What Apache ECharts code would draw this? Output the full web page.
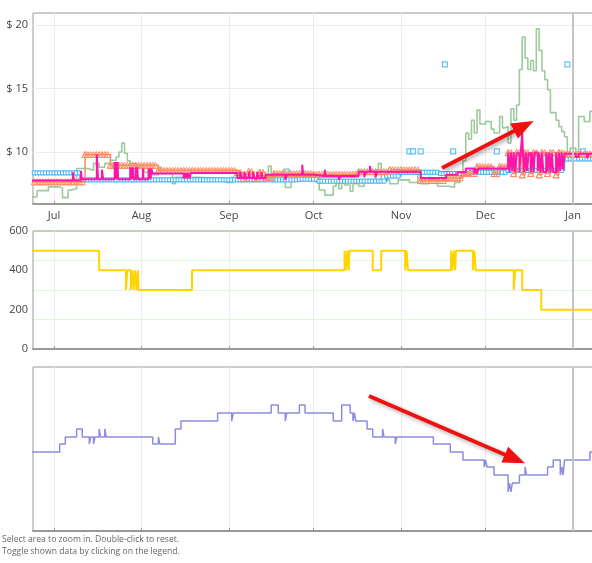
<!DOCTYPE html>
<html>
<head>
<meta charset="utf-8">
<title>Price history</title>
<script src="https://cdn.jsdelivr.net/npm/echarts@6/dist/echarts.min.js"></script>
<style>
  html, body { margin: 0; padding: 0; background: #fff; overflow: hidden; }
  /* the plot runs past the right edge of the window, as in the original */
  #chart { width: 612px; height: 563px; }
</style>
</head>
<body>
<div id="chart"></div>
<script>
// ---- data (dates are change points of step lines) ----
const monthStarts = ['2016-07-01', '2016-08-01', '2016-09-01', '2016-10-01', '2016-11-01', '2016-12-01', '2017-01-01']
const monthNames = ['Jan', 'Feb', 'Mar', 'Apr', 'May', 'Jun', 'Jul', 'Aug', 'Sep', 'Oct', 'Nov', 'Dec']
const priceTicks = [10, 15, 20]
const countTicks = [0, 200, 400, 600]

// green: 3rd party new
const thirdPartyNew = [
  ['2016-06-23', 6.45], ['2016-06-25', 6.95], ['2016-06-29', 7.25], ['2016-07-03', 7.15], ['2016-07-04', 6.4],
  ['2016-07-06', 7.0], ['2016-07-07', 7.1], ['2016-07-09', 8.7], ['2016-07-13', 8.55], ['2016-07-15', 9.1],
  ['2016-07-17', 8.8], ['2016-07-19', 9.1], ['2016-07-21', 9.35], ['2016-07-23', 9.6], ['2016-07-24', 10.0],
  ['2016-07-25', 10.7], ['2016-07-26', 9.9], ['2016-07-27', 9.3], ['2016-07-28', 9.1], ['2016-07-30', 8.8],
  ['2016-08-02', 8.4], ['2016-08-04', 8.2], ['2016-08-07', 8.8], ['2016-08-08', 8.3], ['2016-08-12', 7.5],
  ['2016-08-13', 8.0], ['2016-08-21', 7.9], ['2016-08-31', 7.6], ['2016-09-02', 8.0], ['2016-09-15', 8.9],
  ['2016-09-16', 8.3], ['2016-09-20', 8.5], ['2016-09-21', 7.2], ['2016-09-23', 7.7], ['2016-09-25', 8.0],
  ['2016-10-02', 7.6], ['2016-10-03', 7.0], ['2016-10-05', 6.6], ['2016-10-08', 7.3], ['2016-10-09', 7.6],
  ['2016-10-10', 7.1], ['2016-10-11', 7.6], ['2016-10-12', 7.4], ['2016-10-14', 6.9], ['2016-10-15', 7.5],
  ['2016-10-17', 7.3], ['2016-10-19', 7.6], ['2016-10-21', 7.8], ['2016-10-23', 8.6], ['2016-10-24', 9.1],
  ['2016-10-25', 7.8], ['2016-10-28', 7.5], ['2016-10-31', 7.8], ['2016-11-04', 7.6], ['2016-11-07', 8.4],
  ['2016-11-08', 7.5], ['2016-11-11', 7.8], ['2016-11-14', 7.3], ['2016-11-18', 7.2], ['2016-11-20', 7.6],
  ['2016-11-22', 8.1], ['2016-11-23', 9.3], ['2016-11-24', 11.5], ['2016-11-25', 11.0], ['2016-11-26', 12.5],
  ['2016-11-27', 11.5], ['2016-11-28', 13.3], ['2016-11-29', 12.2], ['2016-12-01', 12.4], ['2016-12-03', 11.8],
  ['2016-12-04', 11.5], ['2016-12-06', 12.8], ['2016-12-07', 11.9], ['2016-12-08', 12.0], ['2016-12-09', 10.7],
  ['2016-12-10', 13.4], ['2016-12-11', 12.5], ['2016-12-12', 13.7], ['2016-12-13', 16.5], ['2016-12-14', 19.05],
  ['2016-12-15', 17.4], ['2016-12-16', 16.5], ['2016-12-17', 17.2], ['2016-12-18', 16.4], ['2016-12-19', 19.7],
  ['2016-12-20', 18.0], ['2016-12-21', 16.4], ['2016-12-22', 15.7], ['2016-12-23', 14.9], ['2016-12-24', 13.1],
  ['2016-12-26', 12.5], ['2016-12-27', 12.0], ['2016-12-28', 11.6], ['2016-12-29', 11.2], ['2016-12-30', 10.0],
  ['2016-12-31', 10.3], ['2017-01-02', 10.0], ['2017-01-03', 12.8], ['2017-01-05', 12.4], ['2017-01-07', 13.2],
  ['2017-01-09', 12.5]
]

// blue squares: used (daily readings)
const usedPrice = [
  ['2016-06-23', 8.35], ['2016-07-10 12', 7.8], ['2016-09-26', 7.85], ['2016-10-03', 7.7], ['2016-10-27', 8.1],
  ['2016-11-01', 8.4], ['2016-11-15', 8.3], ['2016-11-26', 8.4], ['2016-12-09', 8.55], ['2016-12-29', 9.45]
]
const usedOutliers = [
  ['2016-09-21 12', 8.45], ['2016-11-04', 10.05], ['2016-11-05 06', 10.05], ['2016-11-08', 10.05],
  ['2016-11-16 14', 16.9], ['2016-11-19 12', 10.05], ['2016-12-05', 10.05], ['2016-12-30', 16.9], ['2017-01-04 12', 10.05]
]

// orange triangles: new (daily readings)
const newPrice = [
  ['2016-06-23', 7.65], ['2016-07-12', 9.8], ['2016-07-21', 8.95], ['2016-08-07', 8.55], ['2016-09-04', 8.4],
  ['2016-09-06', 7.9], ['2016-09-08', 8.45], ['2016-09-10', 7.9], ['2016-09-12', 8.4], ['2016-09-14', 8.0],
  ['2016-09-17', 8.3], ['2016-10-01', 8.25], ['2016-10-17', 8.45], ['2016-10-28', 8.6], ['2016-11-08', 7.75],
  ['2016-11-17', 7.95], ['2016-11-23', 8.3], ['2016-11-28', 8.85], ['2016-12-04', 8.3], ['2016-12-06', 8.85],
  ['2016-12-09', 9.95], ['2016-12-11', 8.3], ['2016-12-12', 9.95], ['2016-12-14', 8.2], ['2016-12-15', 9.95],
  ['2016-12-17', 8.3], ['2016-12-18', 9.95], ['2016-12-20', 8.2], ['2016-12-21', 9.95], ['2016-12-23', 8.3],
  ['2016-12-24', 9.95], ['2016-12-26', 8.2], ['2016-12-27', 9.95], ['2016-12-29', 9.85]
]

// magenta: buy box
const buyBox = [
  ['2016-06-23', 7.75], ['2016-07-07 16', 8.4], ['2016-07-08 02', 7.75], ['2016-07-10 12', 8.5], ['2016-07-10 20', 7.85],
  ['2016-07-16 04', 9.8], ['2016-07-16 14', 7.85], ['2016-07-18', 8.6], ['2016-07-18 10', 7.85],
  ['2016-07-22 12', 9.2], ['2016-07-22 18', 7.85], ['2016-07-23', 9.2], ['2016-07-23 06', 7.85], ['2016-07-23 12', 9.2], ['2016-07-23 18', 7.85],
  ['2016-07-28', 8.8], ['2016-07-28 06', 7.85], ['2016-07-28 12', 8.8], ['2016-07-28 18', 7.85], ['2016-07-29', 8.8], ['2016-07-29 06', 7.85],
  ['2016-07-30', 8.8], ['2016-07-30 06', 7.85], ['2016-07-30 12', 8.8], ['2016-07-30 18', 7.85],
  ['2016-08-01 12', 8.7], ['2016-08-01 18', 7.85],
  ['2016-08-03 12', 8.7], ['2016-08-03 18', 7.85], ['2016-08-04', 8.7], ['2016-08-04 06', 7.85], ['2016-08-04 12', 8.7],
  ['2016-08-05', 8.3],
  ['2016-08-16', 7.9], ['2016-08-16 12', 8.35], ['2016-08-17', 7.9], ['2016-08-17 12', 8.35], ['2016-08-18', 7.9], ['2016-08-18 12', 8.35],
  ['2016-09-04', 7.95], ['2016-09-05', 8.45], ['2016-09-05 12', 7.95], ['2016-09-06 12', 8.45], ['2016-09-07', 7.95], ['2016-09-08', 8.45],
  ['2016-09-08 12', 7.95], ['2016-09-09 12', 8.4], ['2016-09-10', 7.9], ['2016-09-11', 8.45], ['2016-09-11 12', 7.95], ['2016-09-12 12', 8.4],
  ['2016-09-13', 7.95], ['2016-09-14', 8.2], ['2016-09-21', 7.8], ['2016-09-21 12', 8.2], ['2016-09-27', 9.0], ['2016-09-27 08', 8.2],
  ['2016-10-01', 8.1], ['2016-10-05', 8.6], ['2016-10-05 08', 8.1], ['2016-10-10', 7.8], ['2016-10-10 12', 8.1],
  ['2016-10-17', 8.45], ['2016-10-19', 8.0], ['2016-10-19 12', 8.45], ['2016-10-21', 8.9], ['2016-10-21 08', 8.45],
  ['2016-10-23', 8.0], ['2016-10-23 12', 8.45],
  ['2016-11-08', 7.95], ['2016-11-17', 8.2], ['2016-11-21', 8.4], ['2016-11-24', 8.7],
  ['2016-11-27', 8.3], ['2016-11-27 12', 8.7], ['2016-11-28', 8.3], ['2016-11-28 12', 8.7],
  ['2016-12-09', 9.95], ['2016-12-09 12', 8.4], ['2016-12-10', 9.95], ['2016-12-10 12', 8.5], ['2016-12-11', 9.95],
  ['2016-12-11 12', 8.4], ['2016-12-12', 9.9], ['2016-12-13', 8.4], ['2016-12-13 12', 9.95], ['2016-12-14', 11.5],
  ['2016-12-14 06', 9.95], ['2016-12-14 18', 8.4], ['2016-12-15 06', 9.95], ['2016-12-15 18', 8.5], ['2016-12-16 06', 9.9],
  ['2016-12-17', 8.4], ['2016-12-17 12', 9.95], ['2016-12-18', 8.4], ['2016-12-18 12', 9.95], ['2016-12-19 12', 8.5],
  ['2016-12-20', 9.9], ['2016-12-20 12', 8.4], ['2016-12-21', 9.95], ['2016-12-21 12', 8.4], ['2016-12-22 12', 9.95],
  ['2016-12-23', 8.5], ['2016-12-23 12', 9.95], ['2016-12-24', 8.4], ['2016-12-24 12', 9.9], ['2016-12-25', 8.4],
  ['2016-12-26', 9.95], ['2016-12-26 12', 8.4], ['2016-12-27', 9.95], ['2016-12-27 12', 8.5], ['2016-12-28', 9.95],
  ['2016-12-28 12', 8.6], ['2016-12-29', 9.85], ['2017-01-02', 9.6], ['2017-01-03', 9.85], ['2017-01-06', 9.5],
  ['2017-01-06 12', 9.85]
]

// yellow: offer count panel
const offerCount = [
  ['2016-06-23', 500], ['2016-07-17', 400], ['2016-07-26 12', 300], ['2016-07-27', 400],
  ['2016-07-28 06', 300], ['2016-07-28 18', 400], ['2016-07-29 06', 300], ['2016-07-29 18', 400],
  ['2016-07-30 06', 300], ['2016-07-30 18', 400], ['2016-07-31', 300], ['2016-08-18 22', 400],
  ['2016-10-12', 500], ['2016-10-12 12', 400], ['2016-10-13', 500], ['2016-10-13 12', 400], ['2016-10-13 18', 500],
  ['2016-10-22', 400], ['2016-10-25', 500], ['2016-11-02 12', 400], ['2016-11-03', 500], ['2016-11-03 12', 400],
  ['2016-11-18 18', 500], ['2016-11-19 06', 400], ['2016-11-19 18', 500], ['2016-11-20 06', 400], ['2016-11-20 12', 500],
  ['2016-11-26 12', 400], ['2016-11-27', 500], ['2016-11-27 12', 400], ['2016-12-11', 300], ['2016-12-11 12', 400],
  ['2016-12-14', 300], ['2016-12-20 18', 200]
]

// purple: rank panel (no scale shown)
const salesRank = [
  ['2016-06-23', 79], ['2016-07-03', 87], ['2016-07-05', 94], ['2016-07-09', 102], ['2016-07-11', 94],
  ['2016-07-13 12', 87], ['2016-07-14', 94], ['2016-07-15', 87], ['2016-07-15 12', 94], ['2016-07-17', 102],
  ['2016-07-17 12', 94], ['2016-07-19', 102], ['2016-07-19 12', 94], ['2016-08-05', 87], ['2016-08-07', 94],
  ['2016-08-07 12', 87], ['2016-08-13', 102], ['2016-08-15', 110], ['2016-08-28', 118], ['2016-09-02', 110],
  ['2016-09-02 12', 118], ['2016-09-16', 126], ['2016-09-18 12', 118], ['2016-09-21', 110], ['2016-09-21 12', 118],
  ['2016-09-26', 126], ['2016-09-28', 118], ['2016-10-08', 110], ['2016-10-11', 126], ['2016-10-14', 118],
  ['2016-10-15', 110], ['2016-10-15 12', 118], ['2016-10-16', 110], ['2016-10-20', 102], ['2016-10-22', 94],
  ['2016-10-25 12', 102], ['2016-10-26', 94], ['2016-10-30', 87], ['2016-10-30 12', 94], ['2016-11-12 12', 87],
  ['2016-11-18 12', 79], ['2016-11-23', 71], ['2016-11-30 12', 64], ['2016-12-01', 71], ['2016-12-01 12', 64],
  ['2016-12-04', 56], ['2016-12-09', 39], ['2016-12-09 12', 48], ['2016-12-10', 39], ['2016-12-10 12', 48],
  ['2016-12-13', 56], ['2016-12-15', 64], ['2016-12-15 12', 56], ['2016-12-23', 64], ['2016-12-25', 71],
  ['2016-12-27 12', 56], ['2016-12-28', 64], ['2016-12-28 12', 56], ['2016-12-29', 71], ['2017-01-07', 79],
  ['2017-01-08 12', 87]
]

// annotation arrows: [from, to]
const priceArrow = [['2016-11-15 14', 8.74], ['2016-12-14 14', 12.05]]
const rankArrow = [['2016-10-20 16', 135], ['2016-12-11 10', 72]]

const xStart = '2016-06-23 13'
const xEnd = '2017-01-11 07'
const yearMark = '2017-01-01'

// ---- helpers ----
const DAY = 864e5
function t(s) {
  const [d, h] = s.split(' ')
  const [y, m, dd] = d.split('-').map(Number)
  return Date.UTC(y, m - 1, dd, h ? +h : 0)
}
// change points -> step data running to the right edge
function steps(arr) {
  const out = arr.map(([d, v]) => [t(d), v])
  out.push([t(xEnd), arr[arr.length - 1][1]])
  return out
}
// same, plus the held value once a day so every daily reading gets its marker
function dailySteps(arr) {
  const pts = steps(arr)
  const out = pts.slice()
  let i = 0
  for (let x = t(arr[0][0]); x <= t(xEnd); x += DAY) {
    while (i + 1 < pts.length && pts[i + 1][0] <= x) i++
    out.push([x, pts[i][1]])
  }
  out.sort((a, b) => a[0] - b[0])
  return out
}

const font = "'Open Sans', 'Noto Sans', sans-serif"
const chart = echarts.init(document.getElementById('chart'))

// timestamps on a plain value axis, month ticks placed by hand
function xAxisFor(gridIndex, showLabel) {
  return {
    type: 'value',
    gridIndex,
    min: t(xStart),
    max: t(xEnd),
    axisLine: { show: true, onZero: false, lineStyle: { color: '#999', width: 2 } },
    axisTick: { show: true, inside: true, length: 3, customValues: monthStarts.map(t), lineStyle: { color: '#999' } },
    axisLabel: {
      show: showLabel,
      customValues: monthStarts.map(t),
      formatter: v => monthNames[new Date(v).getUTCMonth()],
      color: '#444',
      fontSize: 11,
      fontFamily: font,
      margin: 6
    },
    splitLine: { show: true, lineStyle: { color: '#ececec', width: 1 } }
  }
}

function yearLine() {
  return {
    silent: true,
    symbol: 'none',
    label: { show: false },
    lineStyle: { color: '#c4c4c4', width: 2, type: 'solid' },
    data: [{ xAxis: t(yearMark) }]
  }
}

function arrowLine(pair) {
  return {
    silent: true,
    symbol: ['none', 'triangle'],
    symbolSize: [17, 22],
    label: { show: false },
    lineStyle: {
      color: '#f01010', width: 4, type: 'solid',
      shadowColor: 'rgba(0,0,0,0.35)', shadowBlur: 4, shadowOffsetX: 2, shadowOffsetY: 2
    },
    itemStyle: { color: '#f01010' },
    data: [[{ coord: [t(pair[0][0]), pair[0][1]] }, { coord: [t(pair[1][0]), pair[1][1]] }]]
  }
}

const gridBase = { left: 33, right: 10, show: true, borderColor: '#999', borderWidth: 1 }

const option = {
  animation: false,
  grid: [
    Object.assign({ top: 13, height: 191 }, gridBase),
    Object.assign({ top: 231, height: 118 }, gridBase),
    Object.assign({ top: 367, height: 164 }, gridBase)
  ],
  xAxis: [xAxisFor(0, true), xAxisFor(1, false), xAxisFor(2, false)],
  yAxis: [
    {
      type: 'value', gridIndex: 0, min: 5.9, max: 20.95,
      axisLine: { show: false },
      axisTick: { show: false, customValues: priceTicks },
      axisLabel: { customValues: priceTicks, formatter: '$ {value}', color: '#444', fontSize: 11, fontFamily: font, margin: 5 },
      splitLine: { show: true, lineStyle: { color: '#ececec' } }
    },
    {
      type: 'value', gridIndex: 1, min: 0, max: 600,
      axisLine: { show: false },
      axisTick: { show: false, customValues: countTicks },
      axisLabel: { customValues: countTicks, color: '#444', fontSize: 11, fontFamily: font, margin: 5 },
      splitLine: { show: false }
    },
    {
      type: 'value', gridIndex: 1, min: 0, max: 600, interval: 150, position: 'left',
      axisLine: { show: false }, axisTick: { show: false }, axisLabel: { show: false },
      splitLine: { show: true, lineStyle: { color: 'rgba(150,225,150,0.3)' } }
    },
    {
      type: 'value', gridIndex: 2, min: 0, max: 164,
      axisLine: { show: false }, axisTick: { show: false }, axisLabel: { show: false },
      splitLine: { show: false }
    }
  ],
  series: [
    {
      name: '3rd party new', type: 'line', xAxisIndex: 0, yAxisIndex: 0, step: 'end', z: 1,
      showSymbol: false, data: steps(thirdPartyNew),
      lineStyle: { color: '#8cbf8c', width: 1.6, opacity: 0.85 },
      markLine: yearLine()
    },
    {
      name: 'Used', type: 'line', xAxisIndex: 0, yAxisIndex: 0, step: 'end', z: 2,
      showSymbol: true, showAllSymbol: true, symbol: 'rect', symbolSize: 4,
      data: dailySteps(usedPrice),
      lineStyle: { color: '#3fb3ef', width: 1.5 },
      itemStyle: { color: '#fff', borderColor: '#3fb3ef', borderWidth: 1 }
    },
    {
      name: 'Used offers', type: 'scatter', xAxisIndex: 0, yAxisIndex: 0, z: 2,
      symbol: 'rect', symbolSize: 5,
      data: usedOutliers.map(([d, v]) => [t(d), v]),
      itemStyle: { color: '#fff', borderColor: '#3fb3ef', borderWidth: 1.2 }
    },
    {
      name: 'New', type: 'line', xAxisIndex: 0, yAxisIndex: 0, step: 'end', z: 3,
      showSymbol: true, showAllSymbol: true, symbol: 'triangle', symbolSize: 6,
      data: dailySteps(newPrice),
      lineStyle: { color: '#ff8a62', width: 1.5 },
      itemStyle: { color: 'rgba(255,255,255,0)', borderColor: '#ff8a62', borderWidth: 1 }
    },
    {
      name: 'Buy Box', type: 'line', xAxisIndex: 0, yAxisIndex: 0, step: 'end', z: 4,
      showSymbol: false, data: steps(buyBox),
      lineStyle: { color: '#ff14aa', width: 2 },
      markLine: arrowLine(priceArrow)
    },
    {
      name: 'Offers', type: 'line', xAxisIndex: 1, yAxisIndex: 1, step: 'end',
      showSymbol: false, data: steps(offerCount),
      lineStyle: { color: '#ffd400', width: 2 },
      markLine: yearLine()
    },
    {
      name: 'Sales rank', type: 'line', xAxisIndex: 2, yAxisIndex: 3, step: 'end',
      showSymbol: false, data: steps(salesRank),
      lineStyle: { color: '#8c8ce0', width: 1.5 }
    },
    {
      name: 'Sales rank marks', type: 'line', xAxisIndex: 2, yAxisIndex: 3,
      showSymbol: false, data: [],
      markLine: yearLine()
    },
    {
      name: 'Rank arrow', type: 'line', xAxisIndex: 2, yAxisIndex: 3, z: 5,
      showSymbol: false, data: [],
      markLine: arrowLine(rankArrow)
    }
  ],
  graphic: [
    { type: 'text', left: 2, top: 535, style: { text: 'Select area to zoom in. Double-click to reset.', fill: '#666', font: '8.6px ' + font } },
    { type: 'text', left: 2, top: 547, style: { text: 'Toggle shown data by clicking on the legend.', fill: '#666', font: '8.6px ' + font } }
  ]
}

chart.setOption(option)
</script>
</body>
</html>
